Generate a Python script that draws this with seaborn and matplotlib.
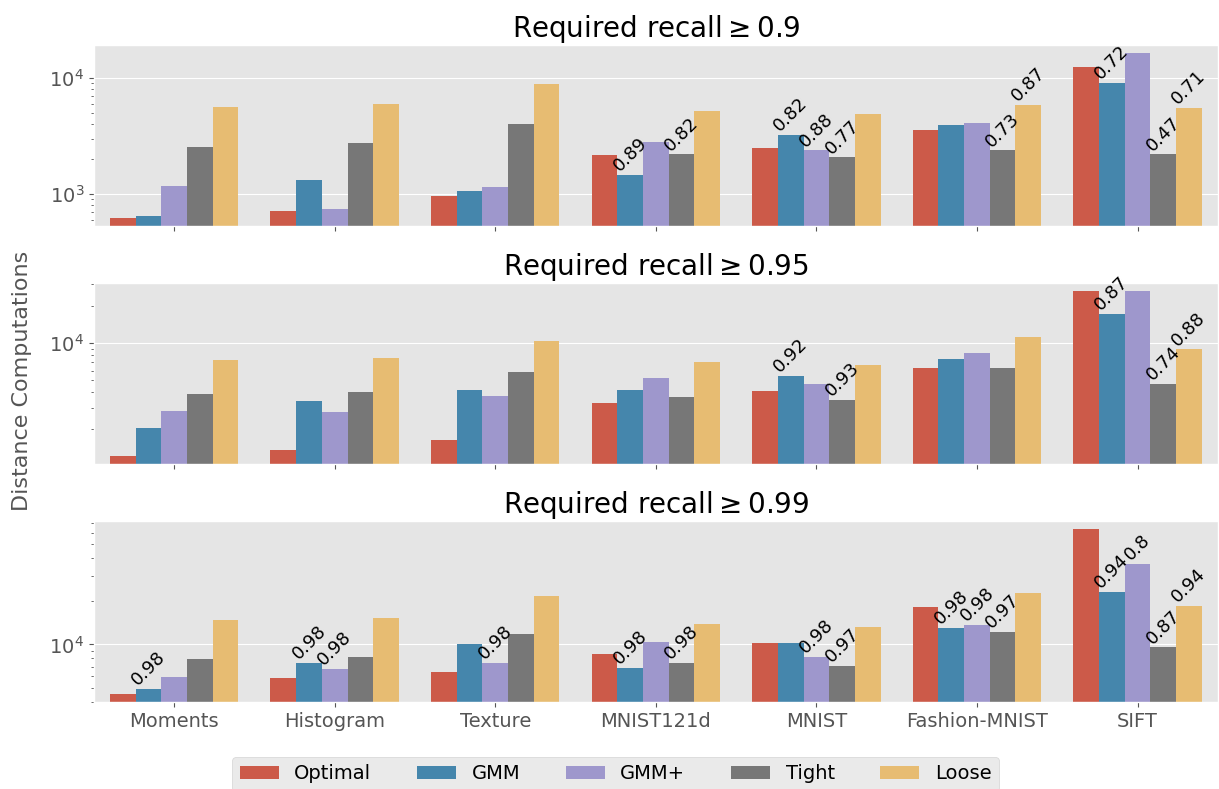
import numpy as np
import pandas as pd
import seaborn as sns
import matplotlib.pyplot as plt

plt.style.use("ggplot")

datasets = ["Moments", "Histogram", "Texture", "MNIST121d", "MNIST", "Fashion-MNIST", "SIFT"]
methods = ["Optimal", "GMM", "GMM+", "Tight", "Loose"]
recall_req = ["0.9", "0.95", "0.99"]

# distance computations, one row per method (Optimal, GMM, GMM+, Tight, Loose)
dist_90 = [
    [624, 716, 961, 2154, 2473, 3594, 12420],
    [649, 1318, 1061, 1453, 3260, 3965, 9060],
    [1170, 745, 1147, 2782, 2377, 4121, 16370],
    [2523, 2730, 4045, 2198, 2071, 2377, 2198],
    [5650, 5995, 8890, 5222, 4920, 5873, 5544],
]
dist_95 = [
    [1219, 1360, 1636, 3297, 4110, 6280, 26400],
    [2040, 3418, 4188, 4188, 5420, 7410, 17280],
    [2844, 2790, 3750, 5220, 4677, 8275, 26400],
    [3890, 4035, 5840, 3680, 3480, 6280, 4677],
    [7275, 7550, 10500, 7010, 6640, 11310, 8910],
]
dist_99 = [
    [4520, 5840, 6410, 8530, 10160, 18270, 63100],
    [4900, 7394, 10000, 6820, 10160, 13090, 23230],
    [5918, 6730, 7394, 10320, 8130, 13740, 36220],
    [7886, 8130, 11720, 7394, 7050, 12290, 9535],
    [14870, 15350, 21780, 13960, 13310, 22860, 18570],
]

# achieved recall where the method missed the requirement (None = met)
N = None
rec_90 = [
    [N, N, N, N, N, N, N],
    [N, N, N, 0.89, 0.82, N, 0.72],
    [N, N, N, N, 0.88, N, N],
    [N, N, N, 0.82, 0.77, 0.73, 0.47],
    [N, N, N, N, N, 0.87, 0.71],
]
rec_95 = [
    [N, N, N, N, N, N, N],
    [N, N, N, N, 0.92, N, 0.87],
    [N, N, N, N, N, N, N],
    [N, N, N, N, 0.93, N, 0.74],
    [N, N, N, N, N, N, 0.88],
]
rec_99 = [
    [N, N, N, N, N, N, N],
    [0.98, 0.98, N, 0.98, N, 0.98, 0.94],
    [N, 0.98, 0.98, N, 0.98, 0.98, 0.8],
    [N, N, N, 0.98, 0.97, 0.97, 0.87],
    [N, N, N, N, N, N, 0.94],
]

palette = ["#E24A33", "#348ABD", "#988ED5", "#777777", "#FBC15E"]

fig, axes = plt.subplots(3, 1, figsize=(12.19, 7.89), dpi=100, sharex=True)
fig.subplots_adjust(left=0.077, right=0.999, top=0.943, bottom=0.110, hspace=0.315)

for ax, req, dist, rec in zip(axes, recall_req, [dist_90, dist_95, dist_99],
                              [rec_90, rec_95, rec_99]):
    rows = []
    for m, vals in zip(methods, dist):
        for d, v in zip(datasets, vals):
            rows.append({"dataset": d, "method": m, "value": v})
    df = pd.DataFrame(rows)

    sns.barplot(data=df, x="dataset", y="value", hue="method",
                order=datasets, hue_order=methods, palette=palette, ax=ax)
    ax.set_yscale("log")
    lo, hi = np.log10(df["value"].min()), np.log10(df["value"].max())
    pad = 0.05 * (hi - lo)
    ax.set_ylim(10 ** (lo - pad), 10 ** (hi + pad))

    # annotate the bars that did not reach the required recall
    for cont, labs in zip(ax.containers, rec):
        for bar, lab in zip(cont, labs):
            if lab is None:
                continue
            ax.text(bar.get_x() + bar.get_width() / 2, bar.get_height(), f"{lab:g}",
                    rotation=45, ha="center", va="bottom", fontsize=13, color="black")

    ax.set_title(r"Required recall$\geq$" + req, fontsize=20, color="black")
    ax.set_xlabel("")
    ax.set_ylabel("")
    ax.tick_params(axis="both", labelsize=14)
    ax.get_legend().remove()

handles, labels = axes[-1].get_legend_handles_labels()
fig.legend(handles, labels, loc="upper center", bbox_to_anchor=(0.505, 0.041),
           borderaxespad=0, ncol=5, fontsize=14, columnspacing=2.35)
fig.text(0.018, 0.517, "Distance Computations", rotation=90, va="center", ha="center",
         fontsize=16, color="#555555")

plt.savefig("out.png")
